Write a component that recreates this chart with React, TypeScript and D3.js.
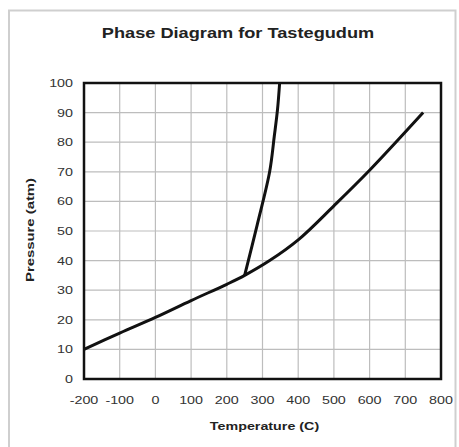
import React from 'react';
import * as d3 from 'd3';

const width = 459;
const height = 447;
const margin = { top: 83, right: 18, bottom: 68, left: 84 };

const xTicks = [-200, -100, 0, 100, 200, 300, 400, 500, 600, 700, 800];
const yTicks = [0, 10, 20, 30, 40, 50, 60, 70, 80, 90, 100];

// sublimation + boiling curve
const vaporT = [-200, -100, 0, 100, 200, 250, 320, 400, 500, 600, 750];
const vaporP = [10, 15.5, 20.8, 26.5, 32, 35, 40, 47, 58.5, 70.5, 90];

// melting curve
const meltT = [250, 285, 320, 333, 342, 348];
const meltP = [35, 52, 70, 82, 91, 100];

const sx = 1.3; // the original picture is stretched sideways

function App() {
	const innerWidth = width - margin.left - margin.right;
	const innerHeight = height - margin.top - margin.bottom;

	const xScale = d3.scaleLinear().domain([-200, 800]).range([0, innerWidth]);
	const yScale = d3.scaleLinear().domain([0, 100]).range([innerHeight, 0]);

	const line = d3
		.line<[number, number]>()
		.x((d) => xScale(d[0]))
		.y((d) => yScale(d[1]))
		.curve(d3.curveCatmullRom);

	const vapor = vaporT.map((t, i) => [t, vaporP[i]] as [number, number]);
	const melt = meltT.map((t, i) => [t, meltP[i]] as [number, number]);

	const font = "'Liberation Sans', Arial, sans-serif";

	return (
		<svg
			width={width}
			height={height}
			style={{ position: 'absolute', left: 0, top: 0 }}
			fontFamily={font}
		>
			<rect width={width} height={height} fill="#fff" />
			<path d="M9,447 V10.5 H455.5 V447" fill="none" stroke="#cfcfcf" strokeWidth={2} />
			<g transform={`translate(238, 38) scale(${sx}, 1)`}>
				<text textAnchor="middle" fontSize={14} fontWeight="bold" fill="#222">
					Phase Diagram for Tastegudum
				</text>
			</g>
			<g transform={`translate(${margin.left}, ${margin.top})`}>
				{xTicks.map((t) => (
					<line
						key={'gx' + t}
						x1={xScale(t)}
						x2={xScale(t)}
						y1={0}
						y2={innerHeight}
						stroke="#bdbdbd"
						strokeWidth={1.2}
					/>
				))}
				{yTicks.map((t) => (
					<line
						key={'gy' + t}
						x1={0}
						x2={innerWidth}
						y1={yScale(t)}
						y2={yScale(t)}
						stroke="#bdbdbd"
						strokeWidth={1.2}
					/>
				))}
				<path d={line(vapor) || ''} fill="none" stroke="#111" strokeWidth={3} strokeLinejoin="round" />
				<path d={line(melt) || ''} fill="none" stroke="#111" strokeWidth={3} strokeLinejoin="round" />
				<rect x={0} y={0} width={innerWidth} height={innerHeight} fill="none" stroke="#111" strokeWidth={2.5} />
				{yTicks.map((t) => (
					<g key={'ty' + t} transform={`translate(-11, ${yScale(t)}) scale(${sx}, 1)`}>
						<text dy="0.36em" textAnchor="end" fontSize={11} fill="#333">
							{t}
						</text>
					</g>
				))}
				{xTicks.map((t) => (
					<g key={'tx' + t} transform={`translate(${xScale(t)}, ${innerHeight + 25}) scale(${sx}, 1)`}>
						<text textAnchor="middle" fontSize={11} fill="#333">
							{t}
						</text>
					</g>
				))}
				<g transform={`translate(${innerWidth / 2 + 2}, ${innerHeight + 51}) scale(${sx}, 1)`}>
					<text textAnchor="middle" fontSize={11} fontWeight="bold" fill="#222">
						Temperature (C)
					</text>
				</g>
				<g transform={`translate(${-50}, ${innerHeight / 2 - 1}) rotate(-90)`}>
					<text
						textAnchor="middle"
						fontSize={11}
						fontWeight="bold"
						fill="#222"
						textLength={104}
						lengthAdjust="spacingAndGlyphs"
					>
						Pressure (atm)
					</text>
				</g>
			</g>
		</svg>
	);
}

export default App;
